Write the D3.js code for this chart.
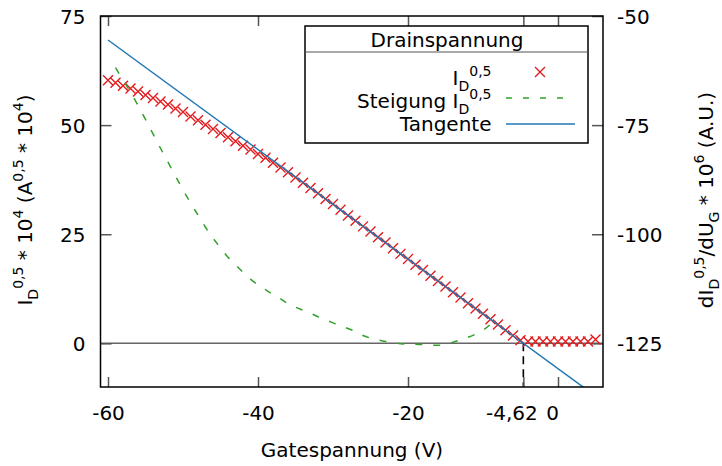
<!DOCTYPE html>
<html>
<head>
<meta charset="utf-8">
<script src="https://cdn.jsdelivr.net/npm/d3@7/dist/d3.min.js"></script>
<style>
  body { margin: 0; background: #fff; }
  svg text { font-family: "DejaVu Sans", sans-serif; font-size: 20px; fill: #000; white-space: pre; }
</style>
</head>
<body>
<svg id="chart" width="722" height="466"></svg>
<script>
// Gate voltage sweep (V)
const gateVoltage = [
  -60, -59, -58, -57, -56, -55, -54, -53, -52, -51,
  -50, -49, -48, -47, -46, -45, -44, -43, -42, -41,
  -40, -39, -38, -37, -36, -35, -34, -33, -32, -31,
  -30, -29, -28, -27, -26, -25, -24, -23, -22, -21,
  -20, -19, -18, -17, -16, -15, -14, -13, -12, -11,
  -10, -9, -8, -7, -6, -5, -4, -3, -2, -1,
  0, 1, 2, 3, 4, 5
];
// Square root of drain current, I_D^0.5 * 10^4
const sqrtDrain = [
  60.3, 59.7, 59.0, 58.4, 57.7, 56.9, 56.2, 55.4, 54.7, 53.8,
  53.0, 52.0, 51.1, 50.1, 49.1, 48.2, 47.2, 46.3, 45.3, 44.4,
  43.4, 42.5, 41.4, 40.3, 39.2, 38.0, 36.8, 35.6, 34.4, 33.1,
  31.9, 30.6, 29.3, 28.1, 26.8, 25.6, 24.3, 23.1, 21.8, 20.5,
  19.3, 18.0, 16.8, 15.5, 14.3, 13.0, 11.7, 10.5, 9.2, 8.0,
  6.8, 5.5, 4.3, 3.0, 1.8, 0.7, 0.4, 0.4, 0.4, 0.4,
  0.4, 0.4, 0.4, 0.4, 0.4, 0.9
];
// Slope dI_D^0.5/dU_G * 10^6 (right axis)
const slopeVoltage = [
  -59, -58, -57, -56, -55, -54, -53, -52, -51, -50,
  -49, -48, -47, -46, -45, -44, -43, -42, -41, -40,
  -39, -38, -37, -36, -35, -34, -33, -32, -31, -30,
  -29, -28, -27, -26, -25, -24, -23, -22, -21, -20,
  -19, -18, -17, -16, -15, -14, -13, -12, -11, -10,
  -9
];
const slopeValue = [
  -61.8, -64.7, -67.4, -70.5, -73.7, -77.0, -80.3, -83.5, -86.7, -89.8,
  -92.8, -95.6, -98.4, -100.9, -103.1, -105.3, -107.0, -108.7, -110.3, -111.6,
  -112.7, -113.8, -114.8, -115.9, -116.7, -117.4, -118.1, -118.9, -119.6, -120.3,
  -121.0, -121.6, -122.3, -123.2, -123.8, -124.2, -124.55, -124.8, -125.1, -125.15,
  -125.2, -125.3, -125.45, -125.45, -125.2, -124.75, -124.2, -123.6, -122.9, -122.0,
  -120.6
];
// Tangent through the linear region
const tangentVoltage = [-60, 6];
const tangentValue = [69.5, -13.33];
const thresholdVoltage = -4.62;

// Axis ticks
const xTicks = [-60, -40, -20, -4.62, 0];
const yLeftTicks = [0, 25, 50, 75];
const yRightTicks = [-50, -75, -100, -125];

const legendTitle = "Drainspannung";
const legendLabels = ["I_D^{0,5}", "Steigung I_D^{0,5}", "Tangente"];

const colors = { drain: "#e41a1c", slope: "#33a02c", tangent: "#1f78b4" };

const svg = d3.select("#chart");
const plot = { left: 100.5, right: 603, top: 16, bottom: 387 };

const x = d3.scaleLinear().domain([-61, 6]).range([plot.left, plot.right]);
const yL = d3.scaleLinear().domain([-10, 75]).range([plot.bottom, plot.top]);
const yR = d3.scaleLinear().domain([-135, -50]).range([plot.bottom, plot.top]);

// gnuplot-style enhanced text: _x / ^x / _{..} / ^{..}
function richText(sel, str, fs) {
  const parts = [];
  let buf = "", i = 0;
  while (i < str.length) {
    const c = str[i];
    if (c === "_" || c === "^") {
      if (buf) { parts.push({ t: buf, m: 0 }); buf = ""; }
      let arg;
      if (str[i + 1] === "{") { const j = str.indexOf("}", i); arg = str.slice(i + 2, j); i = j + 1; }
      else { arg = str[i + 1]; i += 2; }
      parts.push({ t: arg, m: c === "_" ? 1 : -1 });
    } else { buf += c; i++; }
  }
  if (buf) parts.push({ t: buf, m: 0 });
  let cur = 0;
  parts.forEach(p => {
    const off = p.m === 1 ? 0.28 * fs : p.m === -1 ? -0.45 * fs : 0;
    sel.append("tspan")
      .attr("dy", off - cur)
      .style("font-size", (p.m ? fs * 0.7 : fs) + "px")
      .text(p.t);
    cur = off;
  });
}

svg.append("defs").append("clipPath").attr("id", "plotClip")
  .append("rect")
  .attr("x", plot.left).attr("y", plot.top)
  .attr("width", plot.right - plot.left).attr("height", plot.bottom - plot.top);

// zero axis
svg.append("line")
  .attr("x1", plot.left).attr("x2", plot.right)
  .attr("y1", yL(0)).attr("y2", yL(0))
  .attr("stroke", "#666").attr("stroke-width", 1.5);

// threshold marker
svg.append("line")
  .attr("x1", x(thresholdVoltage)).attr("x2", x(thresholdVoltage))
  .attr("y1", yL(0)).attr("y2", yL(-10))
  .attr("stroke", "#000").attr("stroke-width", 1.6)
  .attr("stroke-dasharray", "8,5");

const fmt = d => (d === -4.62 ? "-4,62" : String(d).replace("\u2212", "-"));
const tickColor = "#555";

// bottom axis
const gB = svg.append("g").attr("transform", `translate(0,${plot.bottom})`)
  .call(d3.axisBottom(x).tickValues(xTicks).tickSize(-10).tickPadding(19).tickFormat(fmt));
// top axis (mirror ticks)
const gT = svg.append("g").attr("transform", `translate(0,${plot.top})`)
  .call(d3.axisTop(x).tickValues(xTicks).tickSize(-10).tickFormat(""));
// left axis
const gL = svg.append("g").attr("transform", `translate(${plot.left},0)`)
  .call(d3.axisLeft(yL).tickValues(yLeftTicks).tickSize(-11).tickPadding(15).tickFormat(fmt));
// right axis
const gR = svg.append("g").attr("transform", `translate(${plot.right},0)`)
  .call(d3.axisRight(yR).tickValues(yRightTicks).tickSize(-11).tickPadding(14).tickFormat(fmt));

[gB, gT, gL, gR].forEach(g => {
  g.select(".domain").remove();
  g.selectAll(".tick line").attr("stroke", tickColor).attr("stroke-width", 1.5);
  g.selectAll(".tick text").attr("fill", "#000")
    .style("font-family", '"DejaVu Sans", sans-serif').style("font-size", "20px");
});
gL.selectAll(".tick text").attr("dy", "0.38em");
gR.selectAll(".tick text").attr("dy", "0.38em");
// nudge crowded labels near the origin
gB.selectAll(".tick text").attr("dx", d => (d === -4.62 ? -12 : d === 0 ? -6 : 0));

// data: drain current markers
const cross = "M-5,-5L5,5M-5,5L5,-5";
svg.append("g").attr("clip-path", "url(#plotClip)")
  .selectAll("path").data(gateVoltage.map((v, i) => [v, sqrtDrain[i]]))
  .join("path")
  .attr("d", cross)
  .attr("transform", d => `translate(${x(d[0])},${yL(d[1])})`)
  .attr("stroke", colors.drain).attr("stroke-width", 1.4).attr("fill", "none");

// slope (right axis)
svg.append("path")
  .datum(slopeVoltage.map((v, i) => [v, slopeValue[i]]))
  .attr("clip-path", "url(#plotClip)")
  .attr("d", d3.line().x(d => x(d[0])).y(d => yR(d[1])).curve(d3.curveMonotoneX))
  .attr("fill", "none").attr("stroke", colors.slope).attr("stroke-width", 1.5)
  .attr("stroke-dasharray", "7,11");

// tangent
svg.append("path")
  .datum(tangentVoltage.map((v, i) => [v, tangentValue[i]]))
  .attr("clip-path", "url(#plotClip)")
  .attr("d", d3.line().x(d => x(d[0])).y(d => yL(d[1])))
  .attr("fill", "none").attr("stroke", colors.tangent).attr("stroke-width", 1.5);

// plot border
svg.append("rect")
  .attr("x", plot.left).attr("y", plot.top)
  .attr("width", plot.right - plot.left).attr("height", plot.bottom - plot.top)
  .attr("fill", "none").attr("stroke", "#000").attr("stroke-width", 1.5);

// axis titles
svg.append("text").attr("x", 352).attr("y", 457).attr("text-anchor", "middle")
  .text("Gatespannung (V)");
richText(svg.append("text").attr("text-anchor", "middle")
  .attr("transform", "translate(32,200) rotate(-90)"),
  "I_D^{0,5} * 10^4 (A^{0,5} * 10^4)", 20);
richText(svg.append("text").attr("text-anchor", "middle")
  .attr("transform", "translate(713,200) rotate(-90)"),
  "dI_D^{0,5}/dU_G * 10^6 (A.U.)", 20);

// legend
const lg = svg.append("g");
lg.append("rect").attr("x", 305).attr("y", 26).attr("width", 283).attr("height", 117)
  .attr("fill", "#fff").attr("stroke", "#000").attr("stroke-width", 1.5);
lg.append("line").attr("x1", 305).attr("x2", 588).attr("y1", 52).attr("y2", 52)
  .attr("stroke", "#555").attr("stroke-width", 1.2);
lg.append("text").attr("x", 447).attr("y", 47).attr("text-anchor", "middle").text(legendTitle);

const rowBase = [85, 108, 131];
const sampleY = [72, 98, 124];
legendLabels.forEach((lab, i) => {
  richText(lg.append("text").attr("x", 491.5).attr("y", rowBase[i]).attr("text-anchor", "end"), lab, 20);
});
lg.append("path").attr("d", cross).attr("transform", `translate(540,${sampleY[0]})`)
  .attr("stroke", colors.drain).attr("stroke-width", 1.4).attr("fill", "none");
lg.append("line").attr("x1", 506).attr("x2", 569).attr("y1", sampleY[1]).attr("y2", sampleY[1])
  .attr("stroke", colors.slope).attr("stroke-width", 1.5).attr("stroke-dasharray", "6,11");
lg.append("line").attr("x1", 506).attr("x2", 575).attr("y1", sampleY[2]).attr("y2", sampleY[2])
  .attr("stroke", colors.tangent).attr("stroke-width", 1.5);
</script>
</body>
</html>
